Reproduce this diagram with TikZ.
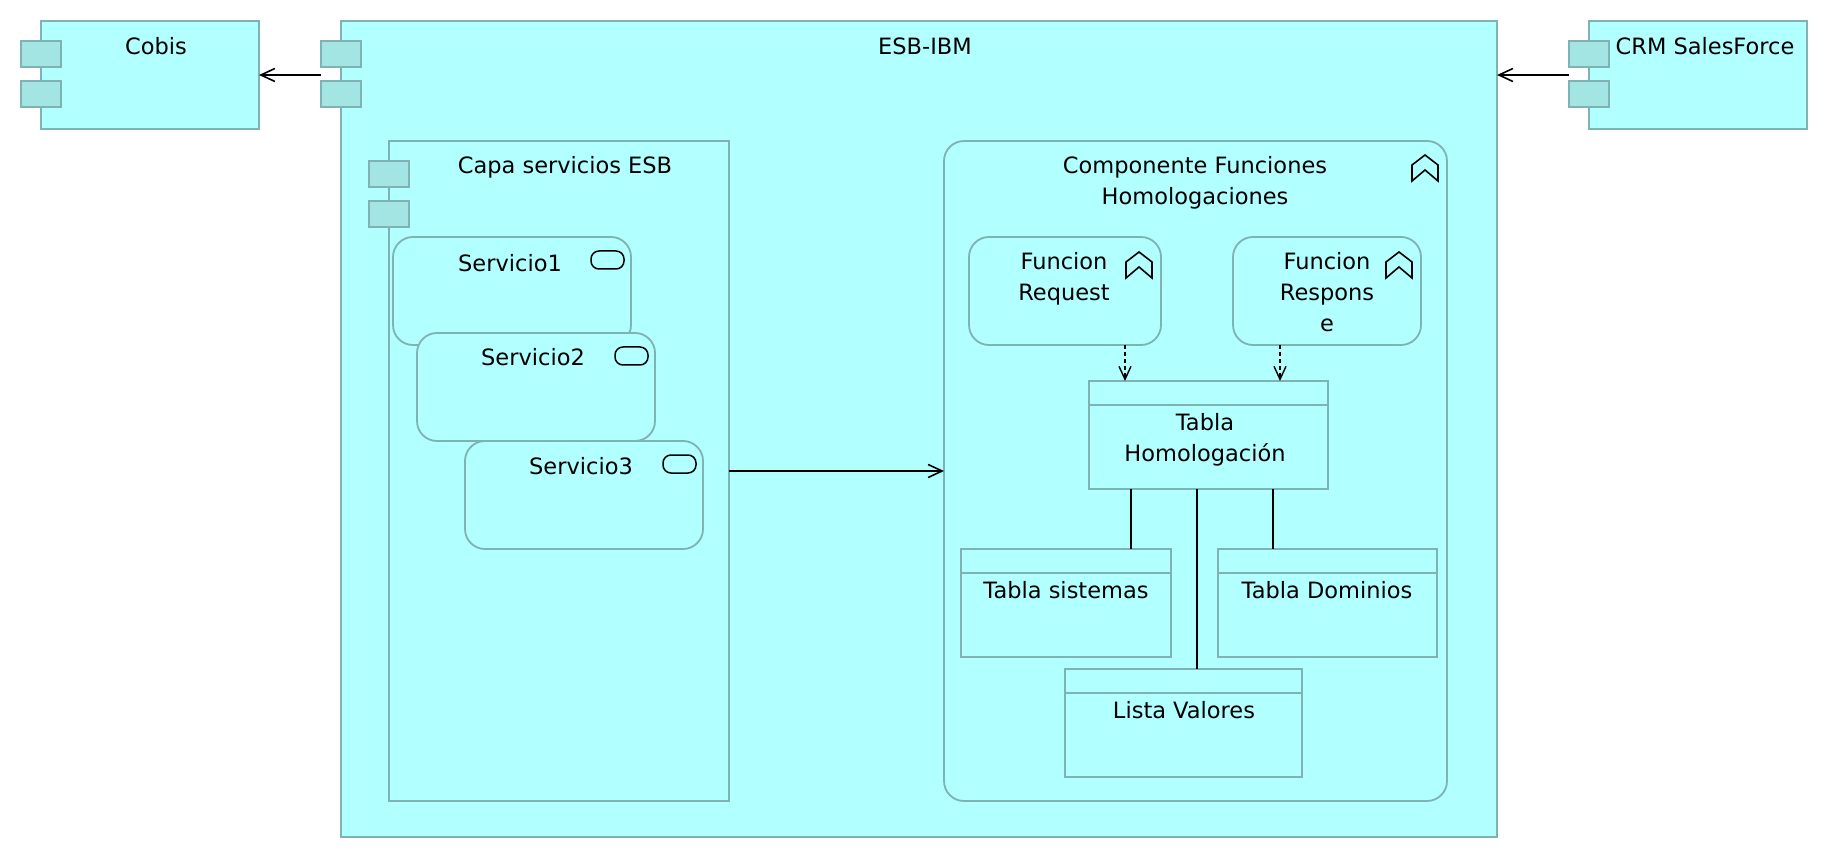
\documentclass[tikz,border=0pt]{standalone}
\usepackage{fontspec}
\setmainfont{DejaVu Sans}
\usetikzlibrary{arrows.meta}
\definecolor{boxfill}{HTML}{B2FFFF}
\definecolor{boxline}{HTML}{7FB2B2}
\definecolor{tabfill}{HTML}{A3E5E3}
\tikzset{
  box/.style={draw=boxline, fill=boxfill, line width=1.8pt, inner sep=0pt, outer sep=0pt, anchor=north west},
  roundbox/.style={box, rounded corners=20pt},
  tabbox/.style={box, fill=tabfill, minimum width=40, minimum height=26},
  badge/.style={draw=black, line width=1.5pt, rounded corners=8pt, inner sep=0pt, outer sep=0pt, anchor=north west, minimum width=33, minimum height=18},
  lbl/.style={align=center, inner sep=0pt, font=\fontsize{22.5}{31}\selectfont},
  flow/.style={draw=black, line width=1.7pt, -{Straight Barb[length=14pt,width=13pt,line width=1.6pt]}},
  access/.style={draw=black, line width=1.5pt, dash pattern=on 4pt off 3pt, -{Straight Barb[length=13pt,width=12pt,line width=1.4pt,sep=0pt]}},
  assoc/.style={draw=black, line width=1.7pt},
  chevicon/.pic={\draw[line width=1.6pt, line join=miter] (0,0) -- (13,10) -- (13,26) -- (0,15) -- (-13,26) -- (-13,10) -- cycle;}
}
\begin{document}
\begin{tikzpicture}[x=1pt,y=-1pt]

    \useasboundingbox (0,0) rectangle (1828,858);

    \node (cobis) [box, minimum width=218, minimum height=108] at (41,21) {};
    \node (esb) [box, minimum width=1156, minimum height=816] at (341,21) {};
    \node (crm) [box, minimum width=218, minimum height=108] at (1589,21) {};
    \node (capa) [box, minimum width=340, minimum height=660] at (389,141) {};
    \node (comp) [roundbox, minimum width=503, minimum height=660] at (944,141) {};

    \foreach \nm/\x/\y in {cobis/21/41, esb/321/41, crm/1569/41, capa/369/161} {
      \node (\nm tab1) [tabbox] at (\x,\y) {};
      \node (\nm tab2) [tabbox] at (\x,\y+40) {};
    }

    % servicios, each one lies over the previous one
    \foreach \n/\x/\y in {1/393/237, 2/417/333, 3/465/441} {
      \node (serv\n) [roundbox, minimum width=238, minimum height=108] at (\x,\y) {};
      \node (badge\n) [badge] at (\x+198,\y+14) {};
    }

    \node (funcreq) [roundbox, minimum width=192, minimum height=108] at (969,237) {};
    \node (funcresp) [roundbox, minimum width=188, minimum height=108] at (1233,237) {};
    \node (tabla) [box, minimum width=239, minimum height=108] at (1089,381) {};
    \node (sistemas) [box, minimum width=210, minimum height=108] at (961,549) {};
    \node (dominios) [box, minimum width=219, minimum height=108] at (1218,549) {};
    \node (lista) [box, minimum width=237, minimum height=108] at (1065,669) {};

    \foreach \nm in {tabla,sistemas,dominios,lista}
      \draw[boxline, line width=1.8pt] ([yshift=-24pt]\nm.north west) -- ([yshift=-24pt]\nm.north east);

    \pic at (1425,155) {chevicon};
    \pic at (1139,252) {chevicon};
    \pic at (1399,252) {chevicon};

    \node (cobislbl) [lbl] at (156,46) {Cobis};
    \node (esblbl) [lbl] at (925,46) {ESB-IBM};
    \node (crmlbl) [lbl] at (1705,46) {CRM SalesForce};
    \node (capalbl) [lbl] at (565,167) {Capa servicios ESB};
    \node (complbl) [lbl] at (1195,183) {Componente Funciones\\Homologaciones};
    \node (serv1lbl) [lbl] at (510,263) {Servicio1};
    \node (serv2lbl) [lbl] at (533,357) {Servicio2};
    \node (serv3lbl) [lbl] at (581,466) {Servicio3};
    \node (reqlbl) [lbl] at (1064,279) {Funcion\\Request};
    \node (resplbl) [lbl] at (1327,292) {Funcion\\Respons\\e};
    \node (tablalbl) [lbl] at (1205,440) {Tabla\\Homologación};
    \node (sistlbl) [lbl] at (1066,590) {Tabla sistemas};
    \node (domlbl) [lbl] at (1327,590) {Tabla Dominios};
    \node (listalbl) [lbl] at (1184,710) {Lista Valores};

    \coordinate (esbout) at (321,75);
    \coordinate (crmout) at (1569,75);
    \coordinate (capaout) at (729,471);
    \coordinate (reqout) at (1125,345);
    \coordinate (respout) at (1280,345);
    \coordinate (tablasis) at (1131,489);
    \coordinate (tablalis) at (1197,489);
    \coordinate (tabladom) at (1273,489);

    \draw[flow] (esbout) -- (cobis.east);
    \draw[flow] (crmout) -- (crmout -| esb.east);
    \draw[flow] (capaout) -- (capaout -| comp.west);
    \draw[access] (reqout) -- (reqout |- tabla.north);
    \draw[access] (respout) -- (respout |- tabla.north);
    \draw[assoc] (tablasis) -- (tablasis |- sistemas.north);
    \draw[assoc] (tablalis) -- (tablalis |- lista.north);
    \draw[assoc] (tabladom) -- (tabladom |- dominios.north);

\end{tikzpicture}
\end{document}
